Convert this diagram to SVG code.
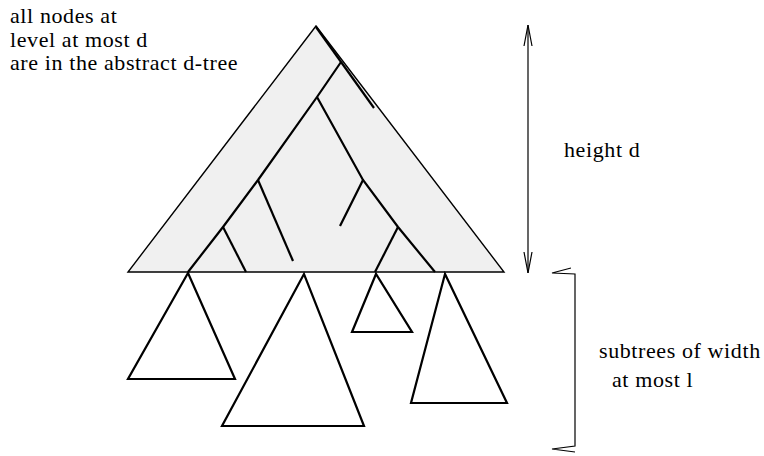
<svg xmlns="http://www.w3.org/2000/svg" width="764" height="456" viewBox="0 0 764 456">
<style>
text{font-family:"Liberation Serif","DejaVu Serif",serif;font-size:22px;letter-spacing:0.6px;fill:#000}
.thin{fill:none;stroke:#000;stroke-width:1.2}
.thick{fill:none;stroke:#000;stroke-width:2.2;stroke-linejoin:miter}
.sub{fill:none;stroke:#000;stroke-width:2.2;stroke-linejoin:miter}
</style>
<rect width="764" height="456" fill="#fff"/>
<g id="dtree">
<polygon points="316,26 128,272 504,272" fill="#f0f0f0" stroke="#000" stroke-width="1.4"/>
<path class="thick" d="M316,27 L374,108"/>
<path class="thick" d="M341,62 L317,97 L258,180 L223,227 L188,272"/>
<path class="thick" d="M317,97 L363,180 L398,227 L435,272"/>
<path class="thick" d="M258,180 L293,261"/>
<path class="thick" d="M223,227 L246,272"/>
<path class="thick" d="M363,180 L340,226"/>
<path class="thick" d="M398,227 L375,272"/>
</g>
<g id="sub1"><polygon class="sub" points="188,273 128,379 235,379"/></g>
<g id="sub2"><polygon class="sub" points="304,274 222,426 364,426"/></g>
<g id="sub3"><polygon class="sub" points="376,274 352,332 412,332"/></g>
<g id="sub4"><polygon class="sub" points="445,274 411,403 507,403"/></g>
<g id="connectors">
<path class="thin" d="M528,25 L528,273"/>
<path class="thin" d="M524,46 L528,25 L532,46"/>
<path class="thin" d="M524,252 L528,273 L532,252"/>
<path class="thin" d="M571,268 L552,273 L575,274 L575,446 L552,449 L575,452"/>
</g>
<g id="labels">
<text x="10" y="23">all nodes at</text>
<text x="10" y="47">level at most d</text>
<text x="10" y="70">are in the abstract d-tree</text>
<text x="564" y="157">height d</text>
<text x="599" y="358">subtrees of width</text>
<text x="612" y="387">at most l</text>
</g>
</svg>
